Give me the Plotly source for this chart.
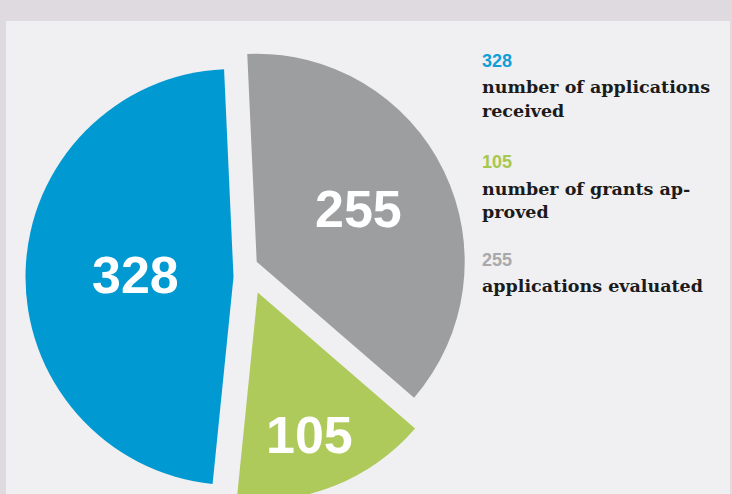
import plotly.graph_objects as go

# ---------------- data (pie order, clockwise from the top) ----------------
categories = ["applications evaluated", "number of grants approved", "number of applications received"]
values = [255, 105, 328]
value_labels = ["255", "105", "328"]

# legend block on the right (top to bottom)
legend_order = [2, 1, 0]
legend_desc = [["number of applications", "received"],
               ["number of grants ap-", "proved"],
               ["applications evaluated"]]

# ---------------- styles / layout ----------------
W, H = 732, 502          # figure slightly taller than the 494px window so the pie runs off the bottom
R = 208
slice_colors = ["#9d9ea0", "#aeca5a", "#0099d1"]
number_colors = ["#a8a9ab", "#a6c84c", "#129fd8"]
# centre of each (exploded) slice in pixels
slice_centres = [(256.7, 261.7), (257.7, 292.5), (233.5, 277.0)]
# where the white value labels sit inside the slices (pixels)
label_pos = [(358.8, 208.5), (309.5, 435.0), (135.4, 275.0)]

fig = go.Figure()
n = len(values)
for i in range(n):
    cx, cy = slice_centres[i]
    colors = ["rgba(0,0,0,0)"] * n
    colors[i] = slice_colors[i]
    fig.add_trace(go.Pie(
        labels=categories,
        values=values,
        sort=False,
        direction="clockwise",
        rotation=-2.6,
        marker=dict(colors=colors, line=dict(width=0)),
        textinfo="none",
        hoverinfo="skip",
        showlegend=False,
        domain=dict(x=[(cx - R) / W, (cx + R) / W],
                    y=[max(0, (H - cy - R) / H), min(1, (H - cy + R) / H)]),
    ))
    px, py = label_pos[i]
    fig.add_annotation(x=px / W, y=1 - py / H, xref="paper", yref="paper",
                       xanchor="center", yanchor="middle", showarrow=False,
                       text=value_labels[i],
                       font=dict(family="Liberation Sans", size=52, color="white", weight="bold"))

# background panel
fig.add_shape(type="rect", xref="paper", yref="paper",
              x0=6 / W, x1=730 / W, y0=0, y1=1 - 21 / H,
              fillcolor="#f0eff2", line=dict(width=0), layer="below")

# right-hand legend text
lx = 480 / W
num_centres = [61, 162.5, 259.5]
line_centres = [[87, 111], [189, 212], [286]]
for k, idx in enumerate(legend_order):
    fig.add_annotation(x=lx, y=1 - num_centres[k] / H, xref="paper", yref="paper",
                       xanchor="left", yanchor="middle", showarrow=False,
                       text=value_labels[idx],
                       font=dict(family="Liberation Sans", size=18, color=number_colors[idx], weight="bold"))
    for j, line in enumerate(legend_desc[k]):
        fig.add_annotation(x=lx, y=1 - line_centres[k][j] / H, xref="paper", yref="paper",
                           xanchor="left", yanchor="middle", showarrow=False,
                           text=line,
                           font=dict(family="DejaVu Serif", size=17.5, color="#1b1b1b", weight="bold"))

fig.update_layout(width=W, height=H, margin=dict(l=0, r=0, t=0, b=0),
                  paper_bgcolor="#dedae0", plot_bgcolor="#dedae0")
fig.write_html(
    "out.html",
    config={"displayModeBar": False},
    post_script="document.body.style.margin='0';"
                "document.body.style.overflow='hidden';"
                "document.documentElement.style.overflow='hidden';",
)
